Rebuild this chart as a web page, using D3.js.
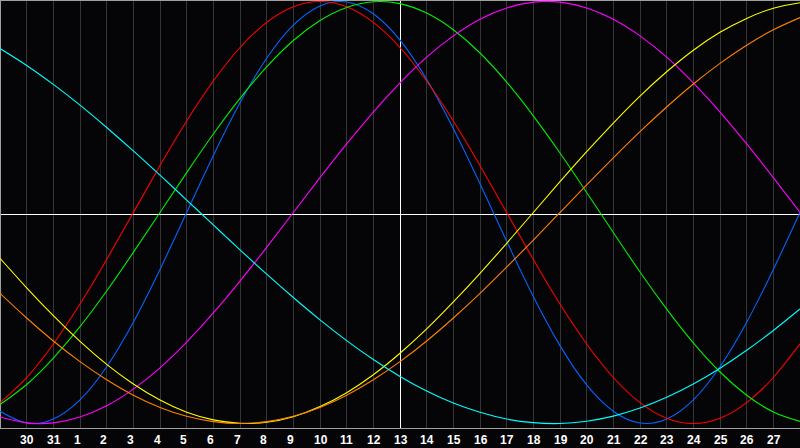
<!DOCTYPE html>
<html>
<head>
<meta charset="utf-8">
<script src="https://cdn.jsdelivr.net/npm/d3@7"></script>
<style>
  html, body { margin: 0; padding: 0; background: #050507; }
  svg { display: block; }
</style>
</head>
<body>
<svg id="chart" width="800" height="448"></svg>
<script>
// Day labels (index 0 = 29th of previous month ... index 30 = 28th)
const days = [29,30,31,1,2,3,4,5,6,7,8,9,10,11,12,13,14,15,16,17,18,19,20,21,22,23,24,25,26,27,28];

// Cycle values per day (-1 .. 1)
const physical     = [-0.942,-0.998,-0.979,-0.888,-0.731,-0.520,-0.270,0,0.270,0.520,0.731,0.888,0.979,0.998,0.942,0.817,0.631,0.398,0.136,-0.136,-0.398,-0.631,-0.817,-0.942,-0.998,-0.979,-0.888,-0.731,-0.520,-0.270,0];
const emotional    = [-0.901,-0.782,-0.623,-0.434,-0.223,0,0.223,0.434,0.623,0.782,0.901,0.975,1,0.975,0.901,0.782,0.623,0.434,0.223,0,-0.223,-0.434,-0.623,-0.782,-0.901,-0.975,-1,-0.975,-0.901,-0.782,-0.623];
const intellectual = [-0.910,-0.815,-0.690,-0.541,-0.372,-0.189,0,0.189,0.372,0.541,0.690,0.815,0.910,0.972,0.999,0.990,0.945,0.866,0.756,0.618,0.458,0.282,0.095,-0.095,-0.282,-0.458,-0.618,-0.756,-0.866,-0.945,-0.990];
const intuitive    = [-0.969,-0.997,-0.997,-0.969,-0.916,-0.837,-0.736,-0.614,-0.476,-0.325,-0.165,0,0.165,0.325,0.476,0.614,0.736,0.837,0.916,0.969,0.997,0.997,0.969,0.916,0.837,0.736,0.614,0.476,0.325,0.165,0];
const aesthetic    = [-0.217,-0.357,-0.489,-0.611,-0.720,-0.813,-0.889,-0.947,-0.983,-0.999,-0.994,-0.968,-0.920,-0.854,-0.769,-0.667,-0.552,-0.424,-0.288,-0.146,0,0.146,0.288,0.424,0.552,0.667,0.769,0.854,0.920,0.968,0.994];
const awareness    = [-0.383,-0.500,-0.609,-0.707,-0.793,-0.866,-0.924,-0.966,-0.991,-1,-0.991,-0.966,-0.924,-0.866,-0.793,-0.707,-0.609,-0.500,-0.383,-0.259,-0.131,0,0.131,0.259,0.383,0.500,0.609,0.707,0.793,0.866,0.924];
const spiritual    = [0.777,0.697,0.607,0.509,0.403,0.292,0.177,0.059,-0.059,-0.177,-0.292,-0.403,-0.509,-0.607,-0.697,-0.777,-0.846,-0.903,-0.947,-0.979,-0.996,-1.000,-0.989,-0.965,-0.927,-0.876,-0.813,-0.738,-0.653,-0.559,-0.457];

const seriesNames  = ["physical","emotional","intellectual","intuitive","aesthetic","awareness","spiritual"];
const seriesValues = [physical, emotional, intellectual, intuitive, aesthetic, awareness, spiritual];
const seriesColors = ["#0066ff","#ff0000","#00f000","#ff00ff","#ffff00","#ff8000","#00ffff"];

const W = 800, plotBottom = 428;
const svg = d3.select("#chart");

const x = d3.scaleLinear().domain([0, days.length - 1]).range([0, W]);
const y = d3.scaleLinear().domain([-1, 1]).range([423.5, 1.5]);

// background
svg.append("rect").attr("x",0).attr("y",0).attr("width",W).attr("height",448).attr("fill","#050507");

// vertical grid lines
const gridIdx = d3.range(1, days.length - 1);
svg.append("g").selectAll("line").data(gridIdx).join("line")
  .attr("x1", i => Math.floor(x(i)) + 0.5)
  .attr("x2", i => Math.floor(x(i)) + 0.5)
  .attr("y1", 1).attr("y2", plotBottom)
  .attr("stroke", i => i === 15 ? "#ffffff" : "#353535")
  .attr("stroke-width", 1)
  .attr("shape-rendering", "crispEdges");

// horizontal zero line
svg.append("line")
  .attr("x1", 1).attr("x2", W).attr("y1", 214.5).attr("y2", 214.5)
  .attr("stroke", "#ffffff").attr("stroke-width", 1)
  .attr("shape-rendering", "crispEdges");

// border (top, left, bottom)
const border = svg.append("g").attr("stroke", "#a0a0a0").attr("stroke-width", 1).attr("shape-rendering", "crispEdges");
border.append("line").attr("x1",0).attr("x2",W).attr("y1",0.5).attr("y2",0.5);
border.append("line").attr("x1",0.5).attr("x2",0.5).attr("y1",0).attr("y2",plotBottom + 1);
border.append("line").attr("x1",0).attr("x2",W).attr("y1",plotBottom + 0.5).attr("y2",plotBottom + 0.5);

// curves
const line = d3.line()
  .x((d, i) => x(i))
  .y(d => y(d))
  .curve(d3.curveNatural);

svg.append("g").selectAll("path").data(seriesValues).join("path")
  .attr("d", d => line(d))
  .attr("fill", "none")
  .attr("stroke", (d, i) => seriesColors[i])
  .attr("stroke-width", 1.1);

// day labels
svg.append("g").selectAll("text").data(gridIdx).join("text")
  .attr("x", i => Math.floor(x(i)) - 6)
  .attr("y", 443.5)
  .attr("fill", "#ffffff")
  .attr("font-family", "'Liberation Sans', Arial, sans-serif")
  .attr("font-weight", "bold")
  .attr("font-size", 12)
  .text(i => days[i]);
</script>
</body>
</html>
